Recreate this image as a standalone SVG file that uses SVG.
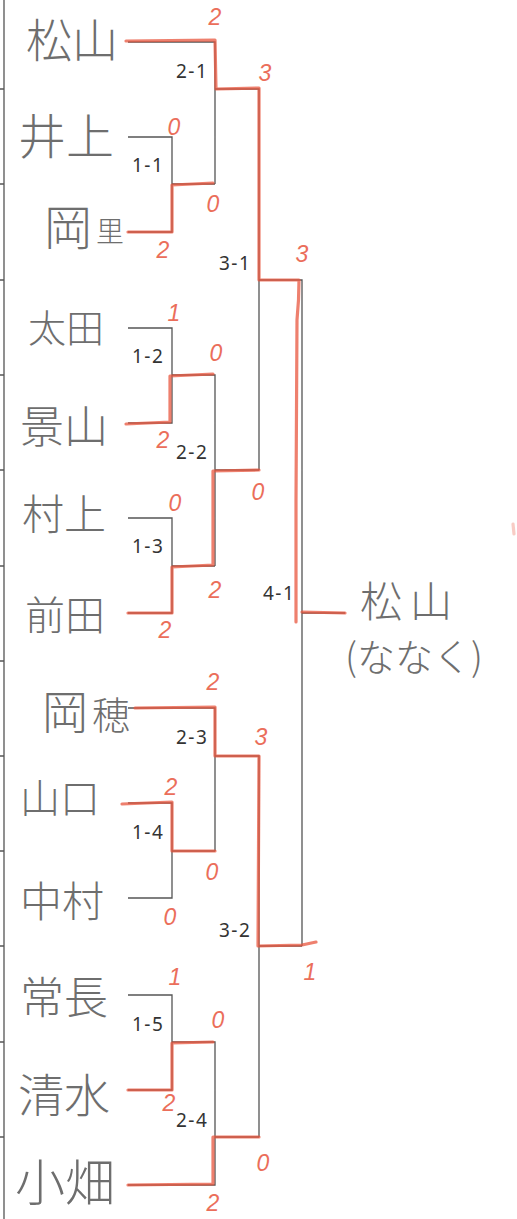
<svg xmlns="http://www.w3.org/2000/svg" width="517" height="1219" viewBox="0 0 517 1219">
<style>
.ln{fill:none;stroke:#555;stroke-width:1.3}
.rd{fill:none;stroke:#e8553e;stroke-width:3.2;stroke-linejoin:round;stroke-linecap:round;opacity:0.75}
.nm{font-family:"Noto Sans CJK JP","Noto Sans CJK SC",sans-serif;font-weight:300;fill:#6e6e6e}
.mt{font-family:"Noto Sans","Liberation Sans",sans-serif;font-size:19px;fill:#333;letter-spacing:1.5px}
.sc{font-family:"Liberation Sans",sans-serif;font-style:italic;font-size:23px;fill:#e8553e;text-anchor:middle;opacity:0.85}
</style>
<rect width="517" height="1219" fill="#fff"/>
<g id="frame">
<path class="ln" d="M4 0V1219M0 89H4M0 184H4M0 280H4M0 375H4M0 470H4M0 566H4M0 661H4M0 756H4M0 851H4M0 946H4M0 1042H4M0 1137H4"/>
</g>
<g id="connectors">
<path class="ln" d="M128 42H215V184M128 137H172V232H128M172 184H215M215 89H259V470M128 328H172V423H128M172 375H215V566M128 518H172V613H128M172 566H215M215 470H259M259 280H302V946M302 613H345"/>
<path class="ln" d="M128 708H215V851M128 803H172V898H128M172 851H215M215 756H259V1137M128 995H172V1090H128M172 1042H215V1185H128M215 1137H259M259 946H302"/>
<path class="rd" d="M126 41L215 40L216 89L259 88L259 280L299 280Q299 300 297 320L296 500L296 622"/>
<path class="rd" d="M302 612L345 613"/>
<path class="rd" d="M128 232H172V185L213 183"/>
<path class="rd" d="M126 424L170 422V376L213 374"/>
<path class="rd" d="M128 613H172V567L213 565V471L259 470"/>
<path class="rd" d="M135 708L215 707V756H259L258 946L302 945L316 942"/>
<path class="rd" d="M122 804L172 802V851H215"/>
<path class="rd" d="M128 1090H172V1043L213 1042"/>
<path class="rd" d="M128 1185L213 1184V1137H259"/>
<path class="rd" d="M513 524L514 534" style="opacity:0.3"/>
</g>
<g id="p-matsuyama"><text class="nm" x="26" y="57" font-size="46">松山</text></g>
<g id="p-inoue"><text class="nm" x="18" y="154" font-size="48">井上</text></g>
<g id="p-okasato"><text class="nm" x="44" y="245" font-size="48">岡</text><text class="nm" x="96" y="242" font-size="28">里</text></g>
<g id="p-ota"><text class="nm" x="28" y="342" font-size="38">太田</text></g>
<g id="p-kageyama"><text class="nm" x="20" y="443" font-size="44">景山</text></g>
<g id="p-murakami"><text class="nm" x="22" y="530" font-size="42">村上</text></g>
<g id="p-maeda"><text class="nm" x="25" y="630" font-size="40">前田</text></g>
<g id="p-okaho"><text class="nm" x="42" y="729" font-size="46">岡</text><text class="nm" x="92" y="729" font-size="38">穂</text></g>
<g id="p-yamaguchi"><text class="nm" x="20" y="813" font-size="40">山口</text></g>
<g id="p-nakamura"><text class="nm" x="20" y="917" font-size="42">中村</text></g>
<g id="p-tsunenaga"><text class="nm" x="20" y="1014" font-size="44">常長</text></g>
<g id="p-shimizu"><text class="nm" x="18" y="1112" font-size="46">清水</text></g>
<g id="p-obata"><text class="nm" x="15" y="1201" font-size="50">小畑</text></g>
<g id="winner"><text class="nm" x="360" y="617" font-size="42" letter-spacing="8">松山</text><text class="nm" x="345" y="671" font-size="38">(ななく)</text></g>
<g id="match-labels">
<text class="mt" x="132" y="172">1-1</text>
<text class="mt" x="176" y="78">2-1</text>
<text class="mt" x="219" y="270">3-1</text>
<text class="mt" x="132" y="363">1-2</text>
<text class="mt" x="176" y="459">2-2</text>
<text class="mt" x="132" y="553">1-3</text>
<text class="mt" x="263" y="600">4-1</text>
<text class="mt" x="176" y="744">2-3</text>
<text class="mt" x="132" y="839">1-4</text>
<text class="mt" x="219" y="937">3-2</text>
<text class="mt" x="132" y="1031">1-5</text>
<text class="mt" x="176" y="1127">2-4</text>
</g>
<g id="scores">
<text class="sc" x="215" y="25">2</text>
<text class="sc" x="265" y="81">3</text>
<text class="sc" x="174" y="135">0</text>
<text class="sc" x="213" y="212">0</text>
<text class="sc" x="163" y="258">2</text>
<text class="sc" x="302" y="262">3</text>
<text class="sc" x="174" y="321">1</text>
<text class="sc" x="216" y="361">0</text>
<text class="sc" x="163" y="448">2</text>
<text class="sc" x="258" y="500">0</text>
<text class="sc" x="175" y="511">0</text>
<text class="sc" x="215" y="598">2</text>
<text class="sc" x="165" y="638">2</text>
<text class="sc" x="213" y="690">2</text>
<text class="sc" x="261" y="745">3</text>
<text class="sc" x="171" y="795">2</text>
<text class="sc" x="212" y="880">0</text>
<text class="sc" x="170" y="925">0</text>
<text class="sc" x="310" y="980">1</text>
<text class="sc" x="175" y="985">1</text>
<text class="sc" x="218" y="1028">0</text>
<text class="sc" x="169" y="1111">2</text>
<text class="sc" x="263" y="1171">0</text>
<text class="sc" x="213" y="1211">2</text>
</g>
</svg>
